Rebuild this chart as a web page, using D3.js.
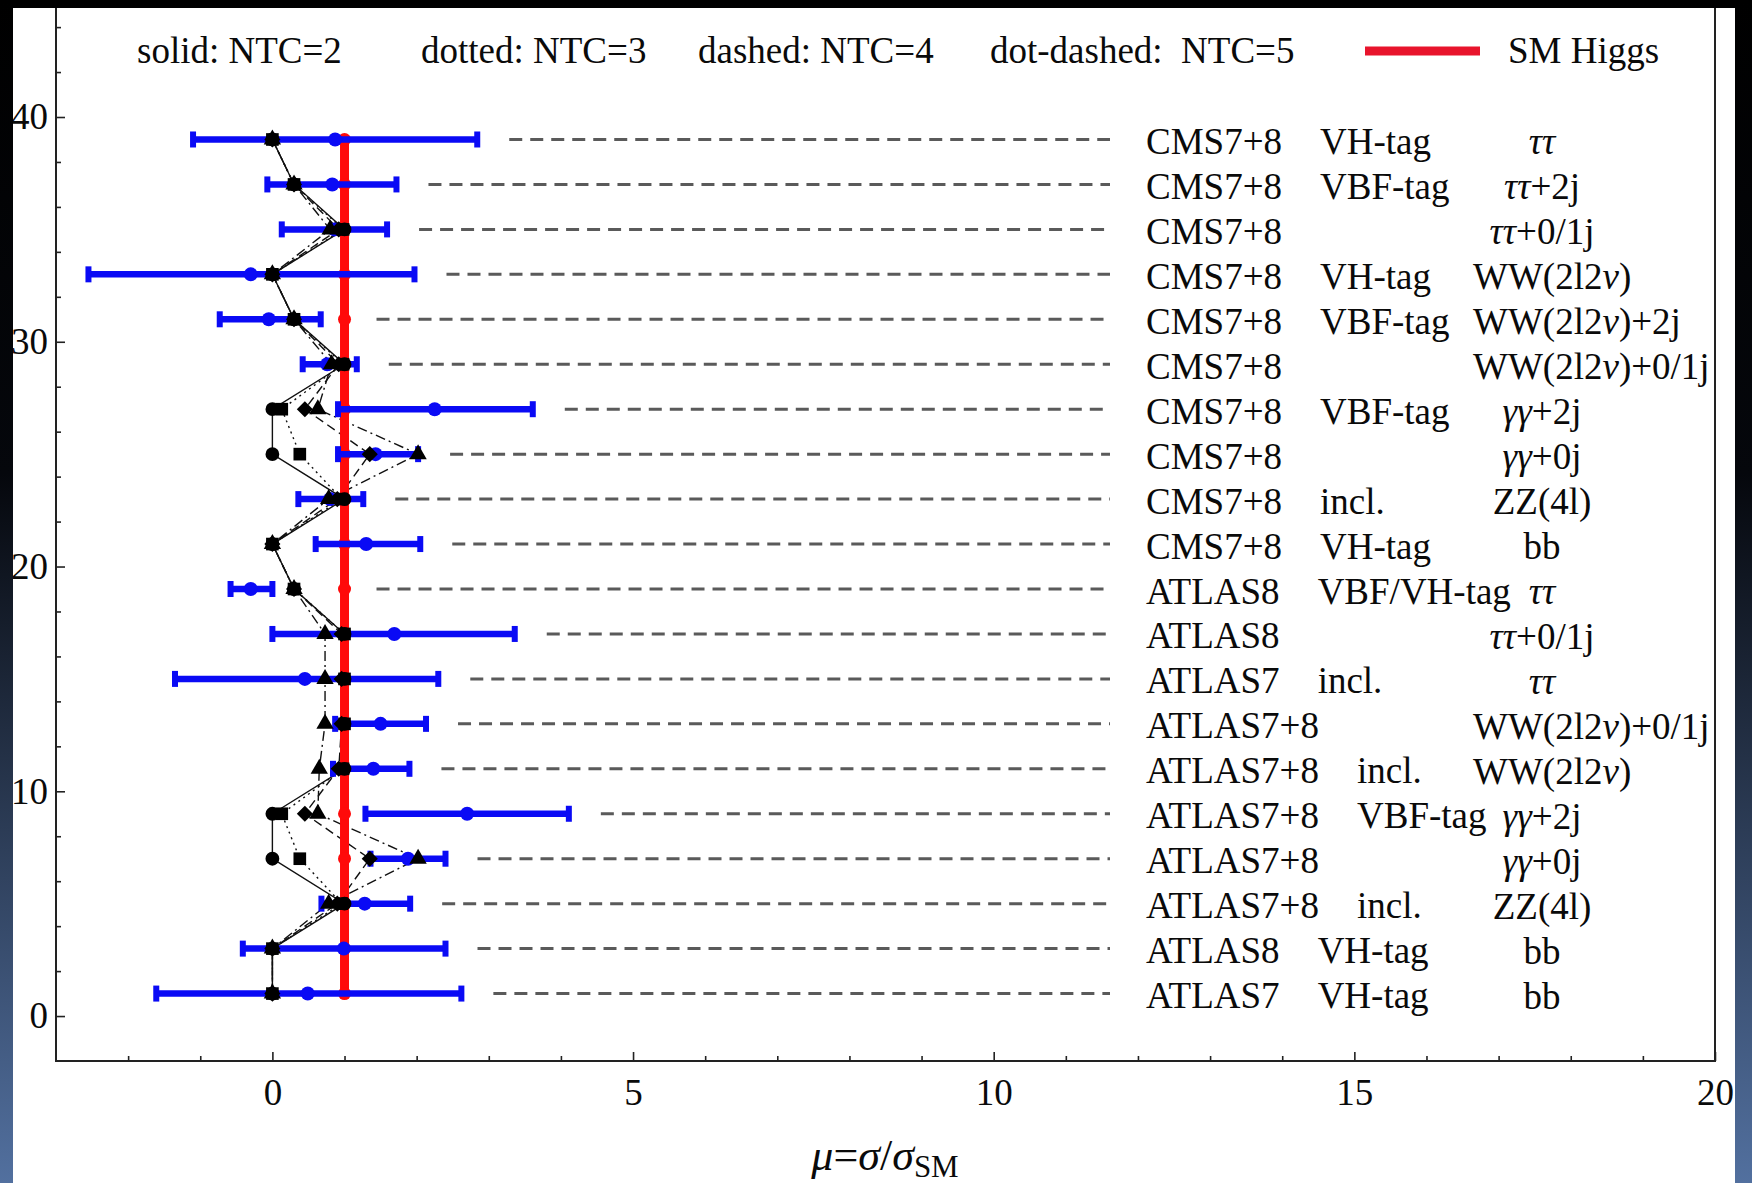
<!DOCTYPE html>
<html>
<head>
<meta charset="utf-8">
<script src="https://cdn.jsdelivr.net/npm/d3@7"></script>
<style>
    html, body { margin: 0; padding: 0; background: #000; }
    svg { display: block; }
    text { font-family: "Liberation Serif", "Times New Roman", serif; fill: #0a0a0a; white-space: pre; }
</style>
</head>
<body>
<svg id="chart"></svg>
<script>
// rows, bottom to top
const rows = [1, 3, 5, 7, 9, 11, 13, 15, 17, 19, 21, 23, 25, 27, 29, 31, 33, 35, 37, 39];

const experiments = ["ATLAS7", "ATLAS8", "ATLAS7+8", "ATLAS7+8", "ATLAS7+8", "ATLAS7+8", "ATLAS7+8",
    "ATLAS7", "ATLAS8", "ATLAS8", "CMS7+8", "CMS7+8", "CMS7+8", "CMS7+8", "CMS7+8", "CMS7+8",
    "CMS7+8", "CMS7+8", "CMS7+8", "CMS7+8"];
const tags = ["VH-tag", "VH-tag", "incl.", "", "VBF-tag", "incl.", "", "incl.", "", "VBF/VH-tag",
    "VH-tag", "incl.", "", "VBF-tag", "", "VBF-tag", "VH-tag", "", "VBF-tag", "VH-tag"];
const channels = ["bb", "bb", "ZZ(4l)", "γγ+0j", "γγ+2j", "WW(2l2ν)", "WW(2l2ν)+0/1j", "ττ", "ττ+0/1j", "ττ",
    "bb", "ZZ(4l)", "γγ+0j", "γγ+2j", "WW(2l2ν)+0/1j", "WW(2l2ν)+2j", "WW(2l2ν)", "ττ+0/1j", "ττ+2j", "ττ"];

// measured signal strengths (blue)
const muCentral = [0.49, 0.99, 1.28, 1.88, 2.70, 1.40, 1.50, 0.45, 1.69, -0.30,
    1.30, 0.80, 1.43, 2.25, 0.76, -0.05, -0.30, 0.86, 0.83, 0.87];
const muLow = [-1.61, -0.41, 0.68, 1.36, 1.29, 0.84, 0.87, -1.35, 0.00, -0.58,
    0.60, 0.36, 0.91, 0.91, 0.42, -0.73, -2.55, 0.13, -0.07, -1.10];
const muHigh = [2.62, 2.40, 1.91, 2.40, 4.11, 1.90, 2.13, 2.30, 3.36, 0.00,
    2.05, 1.26, 2.02, 3.61, 1.17, 0.67, 1.97, 1.59, 1.72, 2.84];

// technicolor predictions
const ntc2 = [0, 0, 1.00, 0, 0, 1.00, 1.00, 1.00, 1.00, 0.30, 0, 1.00, 0, 0, 1.00, 0.30, 0, 1.00, 0.30, 0];
const ntc3 = [0, 0, 0.96, 0.38, 0.13, 0.98, 1.00, 1.00, 1.00, 0.30, 0, 0.96, 0.38, 0.13, 0.98, 0.30, 0, 0.98, 0.30, 0];
const ntc4 = [0, 0, 0.90, 1.35, 0.45, 0.92, 0.96, 0.96, 0.96, 0.30, 0, 0.90, 1.35, 0.45, 0.92, 0.30, 0, 0.92, 0.30, 0];
const ntc5 = [0, 0, 0.78, 2.02, 0.63, 0.65, 0.73, 0.73, 0.73, 0.30, 0, 0.78, 2.02, 0.63, 0.82, 0.30, 0, 0.80, 0.30, 0];

const smHiggs = 1;

const xMajorTicks = [0, 5, 10, 15, 20];
const yMajorTicks = [0, 10, 20, 30, 40];
const legendLabels = ["solid: NTC=2", "dotted: NTC=3", "dashed: NTC=4", "dot-dashed:  NTC=5"];
const smLabel = "SM Higgs";

const W = 1752, H = 1183;
const panel = { x: 13, y: 8, w: 1722, h: 1175 };
const font = 37;

const svg = d3.select("#chart").attr("width", W).attr("height", H);

// slide background
const defs = svg.append("defs");
const grad = defs.append("linearGradient").attr("id", "bg")
    .attr("x1", 0).attr("y1", 0).attr("x2", 0).attr("y2", 1);
grad.append("stop").attr("offset", "0%").attr("stop-color", "#000");
grad.append("stop").attr("offset", "40%").attr("stop-color", "#05070c");
grad.append("stop").attr("offset", "100%").attr("stop-color", "#52709f");
svg.append("rect").attr("width", W).attr("height", H).attr("fill", "url(#bg)");

defs.append("clipPath").attr("id", "panel")
    .append("rect").attr("x", panel.x).attr("y", panel.y).attr("width", panel.w).attr("height", panel.h);

svg.append("rect").attr("x", panel.x).attr("y", panel.y)
    .attr("width", panel.w).attr("height", panel.h).attr("fill", "#fff");

const g = svg.append("g").attr("clip-path", "url(#panel)");

const x = d3.scaleLinear().domain([-3, 20]).range([56, 1715]);
const y = d3.scaleLinear().domain([-2, 44.85]).range([1061, 8]);

// ----- axes
const styleAxis = (sel) => {
    sel.select(".domain").remove();
    sel.selectAll("line").attr("stroke", "#222").attr("stroke-width", 1.6);
    sel.selectAll("text").attr("font-size", font).attr("font-family", null).attr("fill", "#0a0a0a");
};

const xMinor = d3.range(-2, 20).filter(v => v % 5 !== 0);
g.append("g").attr("transform", `translate(0,${y(-2)})`)
    .call(d3.axisBottom(x).tickValues(xMinor).tickSizeInner(-5).tickSizeOuter(0).tickFormat(""))
    .call(styleAxis);
g.append("g").attr("transform", `translate(0,${y(-2)})`)
    .call(d3.axisBottom(x).tickValues(xMajorTicks).tickSizeInner(-9).tickSizeOuter(0)
        .tickPadding(18).tickFormat(d3.format("d")))
    .call(styleAxis);

const yMinor = d3.range(0, 45, 2).filter(v => v % 10 !== 0);
g.append("g").attr("transform", `translate(${x(-3)},0)`)
    .call(d3.axisLeft(y).tickValues(yMinor).tickSizeInner(-5).tickSizeOuter(0).tickFormat(""))
    .call(styleAxis);
g.append("g").attr("transform", `translate(${x(-3)},0)`)
    .call(d3.axisLeft(y).tickValues(yMajorTicks).tickSizeInner(-9).tickSizeOuter(0)
        .tickPadding(8).tickFormat(d3.format("d")))
    .call(styleAxis);

// frame (open at top)
g.append("path")
    .attr("d", `M${x(-3)},${panel.y}V${y(-2)}H${x(20)}V${panel.y}`)
    .attr("fill", "none").attr("stroke", "#222").attr("stroke-width", 2);

// axis title  mu = sigma / sigma_SM
const title = g.append("text").attr("x", 885).attr("y", 1170)
    .attr("text-anchor", "middle").attr("font-size", 44);
title.append("tspan").attr("font-style", "italic").text("μ");
title.append("tspan").text("=");
title.append("tspan").attr("font-style", "italic").text("σ");
title.append("tspan").text("/");
title.append("tspan").attr("font-style", "italic").text("σ");
title.append("tspan").attr("font-size", 31).attr("dy", 7).text("SM");

// ----- data
const data = rows.map((r, i) => ({
    row: r, mu: muCentral[i], lo: muLow[i], hi: muHigh[i],
    exp: experiments[i], tag: tags[i], ch: channels[i]
}));

// leader lines to the labels
g.append("g").selectAll("line").data(data).join("line")
    .attr("x1", d => x(Math.max(d.hi, smHiggs)) + 32)
    .attr("x2", 1110)
    .attr("y1", d => y(d.row)).attr("y2", d => y(d.row))
    .attr("stroke", "#5a5a5a").attr("stroke-width", 3)
    .attr("stroke-dasharray", "13,8");

// technicolor lines
const diamond = {
    draw(ctx, size) {
        const r = Math.sqrt(size / 2);
        ctx.moveTo(0, -r); ctx.lineTo(r, 0); ctx.lineTo(0, r); ctx.lineTo(-r, 0); ctx.closePath();
    }
};
const series = [
    { values: ntc2, dash: null, symbol: d3.symbolCircle, size: 150 },
    { values: ntc3, dash: "2,4", symbol: d3.symbolSquare, size: 160 },
    { values: ntc4, dash: "9,5", symbol: diamond, size: 130 },
    { values: ntc5, dash: "10,4,2,4", symbol: d3.symbolTriangle, size: 130 }
];
const line = d3.line().x(d => x(d.v)).y(d => y(d.row));
series.forEach(s => {
    const pts = rows.map((r, i) => ({ row: r, v: s.values[i] }));
    g.append("path").datum(pts)
        .attr("d", line)
        .attr("fill", "none").attr("stroke", "#111").attr("stroke-width", 1.4)
        .attr("stroke-dasharray", s.dash);
});

// SM Higgs
g.append("path").datum(rows.map(r => ({ row: r, v: smHiggs })))
    .attr("d", line).attr("fill", "none").attr("stroke", "#ff0a0a").attr("stroke-width", 9);
g.append("g").selectAll("circle").data(rows).join("circle")
    .attr("cx", x(smHiggs)).attr("cy", d => y(d)).attr("r", 6.5).attr("fill", "#ff0a0a");

// experimental error bars
const bars = g.append("g").selectAll("g").data(data).join("g")
    .attr("transform", d => `translate(0,${y(d.row)})`);
bars.append("line")
    .attr("x1", d => x(d.lo)).attr("x2", d => x(d.hi))
    .attr("stroke", "#0a0af5").attr("stroke-width", 6.5);
bars.selectAll(".cap").data(d => [d.lo, d.hi]).join("line").attr("class", "cap")
    .attr("x1", v => x(v)).attr("x2", v => x(v)).attr("y1", -8).attr("y2", 8)
    .attr("stroke", "#0a0af5").attr("stroke-width", 6);
bars.append("circle").attr("cx", d => x(d.mu)).attr("r", 7).attr("fill", "#0a0af5");

// technicolor markers
series.forEach(s => {
    g.append("g").selectAll("path").data(rows).join("path")
        .attr("transform", (r, i) => `translate(${x(s.values[i])},${y(r)})`)
        .attr("d", d3.symbol().type(s.symbol).size(s.size))
        .attr("fill", "#000");
});

// ----- row labels
const greek = /([τγνμσ])/;
const richText = (sel, str) => {
    str.split(greek).filter(p => p !== "").forEach(p => {
        sel.append("tspan").attr("font-style", greek.test(p) ? "italic" : null).text(p);
    });
};

const expX = 1146, chStart = 1473, chCenter = 1542;
const labels = g.append("g").selectAll("g").data(data).join("g")
    .attr("transform", d => `translate(0,${y(d.row) + 2})`);
labels.each(function (d) {
    const row = d3.select(this);
    const e = row.append("text").attr("x", expX).attr("dominant-baseline", "central")
        .attr("font-size", font).text(d.exp);
    const ew = e.node().getComputedTextLength();
    if (d.tag) {
        row.append("text").attr("x", expX + ew + 38).attr("dominant-baseline", "central")
            .attr("font-size", font).text(d.tag);
    }
    const c = row.append("text").attr("dominant-baseline", "central").attr("font-size", font);
    richText(c, d.ch);
    const cw = c.node().getComputedTextLength();
    c.attr("x", Math.max(chStart, chCenter - cw / 2));
});

// ----- legend
const legendX = [137, 421, 698, 990];
g.append("g").selectAll("text").data(legendLabels).join("text")
    .attr("x", (d, i) => legendX[i]).attr("y", 63)
    .attr("font-size", font).text(d => d);
g.append("line").attr("x1", 1365).attr("x2", 1480).attr("y1", 51).attr("y2", 51)
    .attr("stroke", "#e8142c").attr("stroke-width", 9);
g.append("text").attr("x", 1508).attr("y", 63).attr("font-size", font).text(smLabel);
</script>
</body>
</html>
